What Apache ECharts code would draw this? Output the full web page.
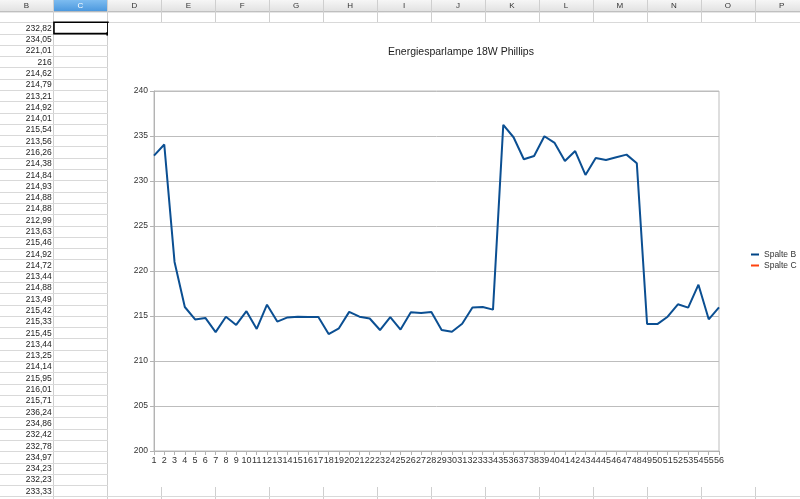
<!DOCTYPE html>
<html>
<head>
<meta charset="utf-8">
<script src="https://cdn.jsdelivr.net/npm/echarts@6/dist/echarts.min.js"></script>
<style>
html,body{margin:0;padding:0;background:#fff;}
#chart{width:800px;height:499px;}
</style>
</head>
<body>
<div id="chart"></div>
<script>
// ---- data ----
const chartTitle = 'Energiesparlampe 18W Phillips';
const categories = ['1','2','3','4','5','6','7','8','9','10','11','12','13','14','15','16','17','18','19','20',
  '21','22','23','24','25','26','27','28','29','30','31','32','33','34','35','36','37','38','39','40',
  '41','42','43','44','45','46','47','48','49','50','51','52','53','54','55','56'];
const spalteB = [232.82, 234.05, 221.01, 216, 214.62, 214.79, 213.21, 214.92, 214.01, 215.54,
  213.56, 216.26, 214.38, 214.84, 214.93, 214.88, 214.88, 212.99, 213.63, 215.46,
  214.92, 214.72, 213.44, 214.88, 213.49, 215.42, 215.33, 215.45, 213.44, 213.25,
  214.14, 215.95, 216.01, 215.71, 236.24, 234.86, 232.42, 232.78, 234.97, 234.23,
  232.23, 233.33, 230.67, 232.56, 232.33, 232.63, 232.93, 231.96, 214.11, 214.10,
  214.92, 216.30, 215.93, 218.48, 214.63, 215.96];
const spalteC = [];
const seriesNames = ['Spalte B', 'Spalte C'];
const columnLetters = ['B','C','D','E','F','G','H','I','J','K','L','M','N','O','P'];
const yMin = 200, yMax = 240, yStep = 5;

// ---- spreadsheet backdrop (graphic) ----
const FONT = '"Liberation Sans", Arial, sans-serif';
const colW = 53.95, colStart = -0.5;
const headerH = 11.3, rowTop = 22.3, rowH = 11.29;
const g = [];
g.push({type:'rect', z:-20, shape:{x:0,y:0,width:800,height:headerH},
  style:{fill:new echarts.graphic.LinearGradient(0,0,0,1,[{offset:0,color:'#f6f6f6'},{offset:1,color:'#e2e2e2'}])}});
g.push({type:'rect', z:-19, shape:{x:colStart+colW,y:0,width:colW,height:headerH},
  style:{fill:new echarts.graphic.LinearGradient(0,0,0,1,[{offset:0,color:'#7dbcf0'},{offset:1,color:'#4b98de'}])}});
g.push({type:'line', z:-18, shape:{x1:0,y1:headerH+0.5,x2:800,y2:headerH+0.5}, style:{stroke:'#a9a9a9',lineWidth:1}});
columnLetters.forEach((L,i)=>{
  const x0 = colStart + i*colW;
  g.push({type:'line', z:-18, shape:{x1:Math.round(x0+colW)+0.5,y1:0,x2:Math.round(x0+colW)+0.5,y2:499},
    style:{stroke:'#cfcfcf',lineWidth:1}});
  g.push({type:'text', z:-17, x:x0+colW/2, y:headerH/2+0.5,
    style:{text:L, fill: L==='C' ? '#ffffff' : '#333333', font:'8px '+FONT, align:'center', verticalAlign:'middle'}});
});
for (let k=0;k<=45;k++){
  const y = Math.round(rowTop + k*rowH)+0.5;
  g.push({type:'line', z:-18, shape:{x1:0,y1:y,x2:800,y2:y}, style:{stroke:'#d9d9d9',lineWidth:1}});
}
spalteB.forEach((v,k)=>{
  g.push({type:'text', z:-16, x:51.7, y:rowTop + k*rowH + rowH/2 + 0.5,
    style:{text:String(v).replace('.',','), fill:'#222', font:'8.5px '+FONT, align:'right', verticalAlign:'middle'}});
});
g.push({type:'rect', z:-15, shape:{x:colStart+colW+0.5,y:rowTop,width:colW,height:rowH},
  style:{fill:'none',stroke:'#000',lineWidth:1.6}});
g.push({type:'rect', z:-15, shape:{x:colStart+2*colW-1,y:rowTop+rowH-1.5,width:3.5,height:3.5}, style:{fill:'#000'}});
g.push({type:'rect', z:-10, shape:{x:108,y:23,width:692,height:464}, style:{fill:'#ffffff'}});

const option = {
  animation:false,
  textStyle:{fontFamily:FONT},
  graphic:g,
  title:{text:chartTitle, left:383, top:42,
    textStyle:{fontSize:10.5, fontWeight:'normal', color:'#222', fontFamily:FONT}},
  legend:{orient:'vertical', left:746, top:245, itemWidth:8, itemHeight:2, itemGap:2, icon:'rect',
    data:seriesNames, textStyle:{fontSize:8.5, color:'#333', fontFamily:FONT}},
  grid:{left:154, right:81, top:91, bottom:48, show:true, borderColor:'#bdbdbd', borderWidth:1, backgroundColor:'transparent'},
  xAxis:{type:'category', data:categories, boundaryGap:false,
    axisLine:{lineStyle:{color:'#b3b3b3',width:1}},
    axisTick:{show:true, length:4, lineStyle:{color:'#b3b3b3'}},
    axisLabel:{interval:0, hideOverlap:false, fontSize:9, color:'#333', margin:5, fontFamily:FONT},
    splitLine:{show:false}},
  yAxis:{type:'value', min:yMin, max:yMax, interval:yStep,
    axisLine:{show:true, lineStyle:{color:'#b3b3b3',width:1}},
    axisTick:{show:true, length:4, lineStyle:{color:'#b3b3b3'}},
    axisLabel:{fontSize:8.5, color:'#333', margin:6, fontFamily:FONT},
    splitLine:{show:true, lineStyle:{color:'#bdbdbd',width:1}}},
  series:[
    {name:seriesNames[0], type:'line', data:spalteB, symbol:'none', color:'#004586',
      lineStyle:{width:2, color:'#0b4f92'}},
    {name:seriesNames[1], type:'line', data:spalteC, symbol:'none', color:'#ff420e',
      lineStyle:{width:2, color:'#ff420e'}}
  ]
};
const chart = echarts.init(document.getElementById('chart'), null, {renderer:'canvas'});
chart.setOption(option);
</script>
</body>
</html>
